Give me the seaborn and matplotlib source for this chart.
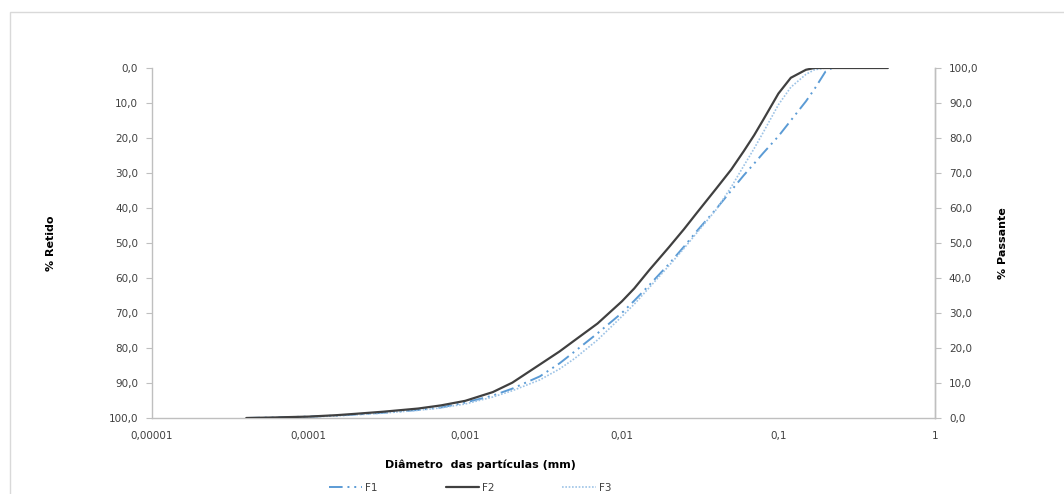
import numpy as np
import pandas as pd
import matplotlib
matplotlib.use("Agg")
import matplotlib.pyplot as plt
import matplotlib.ticker as mticker
from matplotlib.patches import Rectangle
import seaborn as sns

# Diâmetro das partículas (mm) e % passante de cada amostra
diametros = [0.00004, 0.00006, 0.0001, 0.00015, 0.0002, 0.0003, 0.0005, 0.0007,
             0.001, 0.0015, 0.002, 0.003, 0.004, 0.005, 0.007,
             0.01, 0.012, 0.015, 0.02, 0.025, 0.03, 0.04, 0.05, 0.06, 0.07, 0.08,
             0.1, 0.12, 0.15, 0.17, 0.2, 0.22, 0.3, 0.5]
f1 = [0.0, 0.15, 0.4, 0.7, 1.0, 1.5, 2.3, 3.0,
      4.4, 6.4, 8.4, 11.9, 15.6, 19.0, 24.2,
      30.0, 33.5, 38.0, 44.0, 49.0, 53.3, 59.7, 65.0, 69.3, 72.7, 75.7,
      80.5, 85.0, 90.5, 94.0, 99.0, 100.0, 100.0, 100.0]
f2 = [0.0, 0.15, 0.4, 0.8, 1.2, 1.8, 2.7, 3.6,
      4.9, 7.4, 10.1, 15.3, 19.0, 22.2, 27.0,
      33.3, 37.0, 42.3, 48.8, 54.0, 58.5, 65.5, 71.0, 76.2, 80.8, 85.2,
      92.7, 97.2, 99.5, 100.0, 100.0, 100.0, 100.0, 100.0]
f3 = [0.0, 0.1, 0.3, 0.6, 0.9, 1.4, 2.2, 2.9,
      4.0, 6.0, 7.8, 10.9, 14.0, 17.0, 22.3,
      29.0, 32.5, 37.3, 43.5, 48.5, 52.8, 59.5, 66.0, 72.0, 77.0, 81.6,
      89.5, 94.5, 98.2, 99.5, 100.0, 100.0, 100.0, 100.0]

ticks_pct = list(range(0, 101, 10))
ticks_x = [0.00001, 0.0001, 0.001, 0.01, 0.1, 1]
rotulos_x = ["0,00001", "0,0001", "0,001", "0,01", "0,1", "1"]

df = pd.DataFrame({"diametro": diametros, "F1": f1, "F2": f2, "F3": f3})
df_long = df.melt(id_vars="diametro", var_name="serie", value_name="passante")
df_long["retido"] = 100 - df_long["passante"]

sns.set_style("white")
plt.rcParams["font.family"] = ["DejaVu Sans"]

cinza = "#BFBFBF"
cor_txt = "#404040"

fig = plt.figure(figsize=(10.64, 4.94), dpi=100)
ax = fig.add_axes([152 / 1064, 1 - 418 / 494, (935 - 152) / 1064, (418 - 68) / 494])

# moldura da área do gráfico
fig.patches.append(Rectangle((10 / 1064, -0.1), 1.2, 1 - 12 / 494 + 0.1,
                             transform=fig.transFigure, fill=False,
                             edgecolor="#D9D9D9", linewidth=1.0))

series = ["F1", "F2", "F3"]
paleta = {"F1": "#5B9BD5", "F2": "#404040", "F3": "#9DC3E6"}
estilos = {"F1": (7, 2.5, 1, 2.5, 1, 2.5), "F2": "", "F3": (1, 1)}
larguras = {"F1": 1.4, "F2": 1.6, "F3": 1.2}
ordem_z = {"F1": 2, "F2": 4, "F3": 3}

sns.lineplot(data=df_long, x="diametro", y="retido", hue="serie", style="serie",
             palette=paleta, dashes=estilos, ax=ax, legend=False)
for linha, s in zip(ax.lines, series):
    linha.set_linewidth(larguras[s])
    linha.set_zorder(ordem_z[s])

ax.set_xscale("log")
ax.set_xlim(0.00001, 1)
ax.set_ylim(100, 0)
ax.set_yticks(ticks_pct)
ax.yaxis.set_major_formatter(mticker.FuncFormatter(lambda v, p: f"{v:.1f}".replace(".", ",")))
ax.set_xticks(ticks_x)
ax.set_xticklabels(rotulos_x)
ax.xaxis.set_minor_locator(mticker.LogLocator(base=10, subs=np.arange(2, 10), numticks=20))
ax.xaxis.set_minor_formatter(mticker.NullFormatter())

ax2 = ax.twinx()
ax2.set_ylim(0, 100)
ax2.set_yticks(ticks_pct)
ax2.yaxis.set_major_formatter(mticker.FuncFormatter(lambda v, p: f"{v:.1f}".replace(".", ",")))

for a in (ax, ax2):
    a.spines["top"].set_visible(False)
    for lado in ["left", "bottom", "right"]:
        a.spines[lado].set_color(cinza)
        a.spines[lado].set_linewidth(1.0)
    a.tick_params(axis="both", which="both", colors=cinza, labelcolor=cor_txt,
                  labelsize=7.5, direction="out", length=4, width=0.8)
    a.tick_params(axis="x", which="minor", length=3)
ax.tick_params(axis="y", pad=6)
ax2.tick_params(axis="y", pad=6)
ax.tick_params(axis="x", pad=5)
ax2.spines["left"].set_visible(False)
ax2.spines["bottom"].set_visible(False)

ax.set_xlabel("")
ax.set_ylabel("% Retido", fontsize=8, fontweight="bold", color="black", labelpad=38)
ax2.set_ylabel("% Passante", fontsize=8, fontweight="bold", color="black", labelpad=14)
fig.text(480 / 1064, 1 - 465 / 494, "Diâmetro  das partículas (mm)", ha="center", va="center",
         fontsize=8, fontweight="bold", color="black")

handles = [plt.Line2D([], [], color=paleta[s], linewidth=larguras[s],
                      linestyle=(0, estilos[s]) if estilos[s] else "-") for s in series]
leg = fig.legend(handles, series, loc="center", ncol=3,
                 bbox_to_anchor=(470 / 1064, 1 - 488 / 494), frameon=False,
                 fontsize=7.5, handlelength=3.2, columnspacing=6.5, handletextpad=0.3)
for t in leg.get_texts():
    t.set_color(cor_txt)

fig.savefig("out.png", dpi=100, facecolor="white")
